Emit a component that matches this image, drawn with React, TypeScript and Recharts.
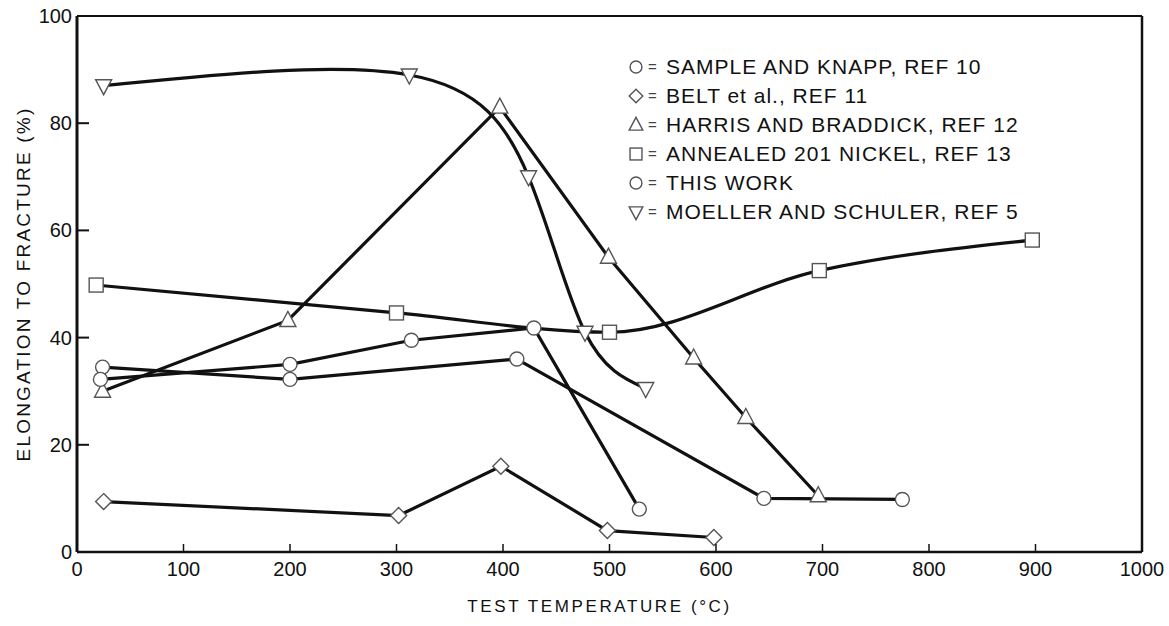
import React from 'react';
import { LineChart, Line, XAxis, YAxis } from 'recharts';

// values (temperature in deg C, elongation in %)
const sampleKnappTemp = [24, 200, 413, 645, 775];
const sampleKnappElong = [34.5, 32.2, 36, 10, 9.8];

const beltTemp = [25, 302, 398, 498, 598];
const beltElong = [9.4, 6.8, 16, 4, 2.7];

const harrisTemp = [24, 198, 397, 499, 579, 628, 696];
const harrisElong = [30, 43.2, 83, 55, 36.2, 25.1, 10.5];

const annealedTemp = [18, 300, 500, 697, 897];
const annealedElong = [49.8, 44.6, 41, 52.5, 58.2];

const thisWorkTemp = [22, 200, 314, 429, 528];
const thisWorkElong = [32.2, 35, 39.5, 41.8, 8];

const moellerTemp = [25, 312, 424, 477, 534];
const moellerElong = [87, 89, 70, 41, 30.5];

const xTicks = [0, 100, 200, 300, 400, 500, 600, 700, 800, 900, 1000];
const yTicks = [0, 20, 40, 60, 80, 100];

const legendLabels = [
  'SAMPLE AND KNAPP, REF 10',
  'BELT et al., REF 11',
  'HARRIS AND BRADDICK, REF 12',
  'ANNEALED 201 NICKEL, REF 13',
  'THIS WORK',
  'MOELLER AND SCHULER, REF 5',
];
const legendShapes = ['circle', 'diamond', 'triangle', 'square', 'circle', 'triangleDown'];

const toRows = (temps: number[], vals: number[]) => temps.map((t, i) => ({ t, v: vals[i] }));

const FONT = '"Liberation Sans", Arial, Helvetica, sans-serif';
const INK = '#111';
const MARK = '#555';

type Shape = 'circle' | 'diamond' | 'triangle' | 'square' | 'triangleDown';

const Marker = ({ shape, cx, cy, s = 1 }: { shape: Shape; cx: number; cy: number; s?: number }) => {
  const common = { fill: '#fff', stroke: MARK, strokeWidth: 1.4 };
  if (shape === 'circle') return <circle cx={cx} cy={cy} r={7 * s} {...common} />;
  if (shape === 'square') return <rect x={cx - 7 * s} y={cy - 7 * s} width={14 * s} height={14 * s} {...common} />;
  if (shape === 'diamond') {
    const d = 8 * s;
    return <polygon points={`${cx},${cy - d} ${cx + d},${cy} ${cx},${cy + d} ${cx - d},${cy}`} {...common} />;
  }
  if (shape === 'triangle') {
    return <polygon points={`${cx},${cy - 9 * s} ${cx + 8 * s},${cy + 6 * s} ${cx - 8 * s},${cy + 6 * s}`} {...common} />;
  }
  return <polygon points={`${cx - 8 * s},${cy - 6 * s} ${cx + 8 * s},${cy - 6 * s} ${cx},${cy + 9 * s}`} {...common} />;
};

const dotOf = (shape: Shape) => (props: any) => (
  <Marker key={`${shape}-${props.index}-${props.cx}`} shape={shape} cx={props.cx} cy={props.cy} />
);

const BottomTick = ({ x, y, payload }: any) => (
  <g>
    <line x1={x} x2={x} y1={y} y2={y - 8} stroke={INK} strokeWidth={1.5} />
    <text x={x} y={y + 24} textAnchor="middle" fontSize={20} fill={INK} fontFamily={FONT}>
      {payload.value}
    </text>
  </g>
);

const TopTick = ({ x, y }: any) => <line x1={x} x2={x} y1={y} y2={y + 10} stroke={INK} strokeWidth={1.5} />;

const LeftTick = ({ x, y, payload }: any) => (
  <g>
    <line x1={x} x2={x + 12} y1={y} y2={y} stroke={INK} strokeWidth={2} />
    <text x={x - 5} y={y + 7} textAnchor="end" fontSize={20} fill={INK} fontFamily={FONT}>
      {payload.value}
    </text>
  </g>
);

const LegendBox = () => (
  <div style={{ position: 'absolute', left: 626, top: 52, fontFamily: FONT, color: INK }}>
    {legendLabels.map((label, i) => (
      <div key={label} style={{ height: 29, display: 'flex', alignItems: 'center' }}>
        <svg width={22} height={20}>
          <Marker shape={legendShapes[i] as Shape} cx={10} cy={10} s={0.85} />
        </svg>
        <span style={{ fontSize: 15, color: '#444', width: 18 }}>=</span>
        <span style={{ fontSize: 21, letterSpacing: 1, whiteSpace: 'nowrap' }}>{label}</span>
      </div>
    ))}
  </div>
);

const App: React.FC = () => {
  const lineProps = { stroke: INK, strokeWidth: 3.2, isAnimationActive: false, dataKey: 'v' };
  return (
    <div style={{ position: 'absolute', left: 0, top: 0, width: 1169, height: 626, background: '#fff' }}>
      <LineChart width={1169} height={626} margin={{ top: 0, right: 0, bottom: 0, left: 0 }}>
        <XAxis
          xAxisId="top"
          orientation="top"
          dataKey="t"
          type="number"
          domain={[0, 1000]}
          ticks={xTicks}
          height={16}
          tickSize={0}
          tickMargin={0}
          tick={<TopTick />}
          axisLine={{ stroke: INK, strokeWidth: 2 }}
        />
        <XAxis
          dataKey="t"
          type="number"
          domain={[0, 1000]}
          ticks={xTicks}
          height={74}
          tickSize={0}
          tickMargin={0}
          tick={<BottomTick />}
          axisLine={{ stroke: INK, strokeWidth: 2.5 }}
          label={{
            value: 'TEST TEMPERATURE (°C)',
            position: 'insideBottom',
            offset: 14,
            dx: -10,
            style: { fontSize: 17, letterSpacing: 2.6, fill: INK, fontFamily: FONT },
          }}
        />
        <YAxis
          type="number"
          domain={[0, 100]}
          ticks={yTicks}
          width={77}
          tickSize={0}
          tickMargin={0}
          tick={<LeftTick />}
          axisLine={{ stroke: INK, strokeWidth: 3 }}
          label={(p: any) => {
            const vb = p.viewBox || { x: 0, y: 16, width: 77, height: 536 };
            const cx = 23;
            const cy = vb.y + vb.height / 2;
            return (
              <text
                x={cx}
                y={cy}
                transform={`rotate(-90 ${cx} ${cy})`}
                textAnchor="middle"
                dominantBaseline="central"
                fontSize={19}
                letterSpacing={2.2}
                fill={INK}
                fontFamily={FONT}
              >
                ELONGATION TO FRACTURE (%)
              </text>
            );
          }}
        />
        <YAxis
          yAxisId="right"
          orientation="right"
          type="number"
          domain={[0, 100]}
          width={27}
          tick={false}
          tickLine={false}
          axisLine={{ stroke: INK, strokeWidth: 2.5 }}
        />
        <Line {...lineProps} name="Sample and Knapp" data={toRows(sampleKnappTemp, sampleKnappElong)} type="linear" dot={dotOf('circle')} />
        <Line {...lineProps} name="Belt" data={toRows(beltTemp, beltElong)} type="linear" dot={dotOf('diamond')} />
        <Line {...lineProps} name="Harris and Braddick" data={toRows(harrisTemp, harrisElong)} type="linear" dot={dotOf('triangle')} />
        <Line {...lineProps} name="Annealed 201 Nickel" data={toRows(annealedTemp, annealedElong)} type="monotone" dot={dotOf('square')} />
        <Line {...lineProps} name="This work" data={toRows(thisWorkTemp, thisWorkElong)} type="linear" dot={dotOf('circle')} />
        <Line {...lineProps} name="Moeller and Schuler" data={toRows(moellerTemp, moellerElong)} type="natural" dot={dotOf('triangleDown')} />
      </LineChart>
      <LegendBox />
    </div>
  );
};

export default App;
